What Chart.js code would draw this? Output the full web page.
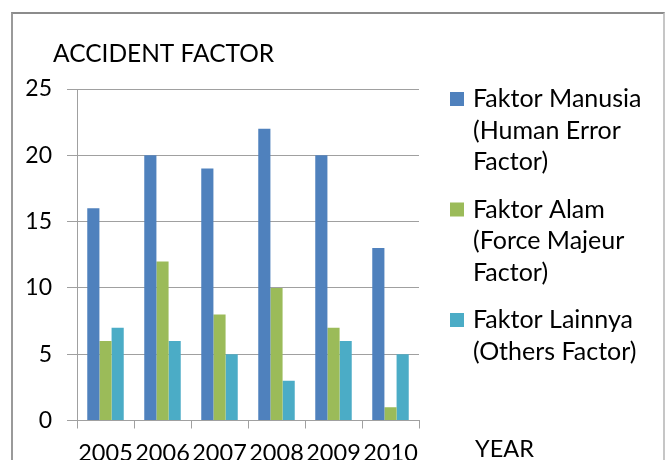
<!DOCTYPE html>
<html>
<head>
<meta charset="utf-8">
<script src="https://cdn.jsdelivr.net/npm/chart.js@4.4.1/dist/chart.umd.min.js"></script>
<style>
  html, body { margin: 0; padding: 0; background: #fff; overflow: hidden; }
  #wrap { position: relative; width: 670px; height: 460px; }
  #frame {
    position: absolute; left: 11px; top: 12px; width: 650px; height: 460px;
    border-top: 2px solid #8c8c8c; border-left: 2px solid #9a9a9a; border-right: 2px solid #c6c6c6;
  }
  canvas { position: absolute; left: 0; top: 0; }
</style>
</head>
<body>
<div id="wrap">
  <div id="frame"></div>
  <canvas id="chart" width="670" height="460"></canvas>
</div>
<script>
// ===== DATA =====
const years = ['2005', '2006', '2007', '2008', '2009', '2010'];
const humanError = [16, 20, 19, 22, 20, 13];
const forceMajeur = [6, 12, 8, 10, 7, 1];
const others = [7, 6, 5, 3, 6, 5];
const yTicks = [0, 5, 10, 15, 20, 25];

const seriesColors = ['#4F81BD', '#9BBB59', '#4BACC6'];
const legendLines = [
    ['Faktor Manusia', '(Human Error', 'Factor)'],
    ['Faktor Alam', '(Force Majeur', 'Factor)'],
    ['Faktor Lainnya', '(Others Factor)']
];
const chartTitle = 'ACCIDENT FACTOR';
const xTitle = 'YEAR';

const FONT = 'Lato';
const axisGray = '#a0a0a0';

// ===== TEXT PLUGIN (title, legend, axis name) =====
const textPlugin = {
    id: 'textPlugin',
    afterDraw(chart) {
        const ctx = chart.ctx;
        const area = chart.chartArea;
        ctx.save();
        ctx.fillStyle = '#000';
        ctx.textBaseline = 'middle';
        ctx.textAlign = 'left';

        // title
        ctx.font = `24.5px ${FONT}`;
        ctx.fillText(chartTitle, 53, 54);

        // legend
        ctx.font = `25px ${FONT}`;
        const lineH = 31.5;
        const gap = 16;
        let y = 99;
        legendLines.forEach((lines, i) => {
            ctx.fillStyle = seriesColors[i];
            ctx.fillRect(450, y - 7, 14, 14);
            ctx.fillStyle = '#000';
            lines.forEach((t, j) => ctx.fillText(t, 473, y + j * lineH));
            y += lines.length * lineH + gap;
        });

        // x axis name
        ctx.font = `23.5px ${FONT}`;
        ctx.fillText(xTitle, area.right + 56, 449);
        ctx.restore();
    }
};

// ===== CHART =====
const ctx = document.getElementById('chart').getContext('2d');
new Chart(ctx, {
    type: 'bar',
    data: {
        labels: years,
        datasets: [
            { label: legendLines[0].join(' '), data: humanError, backgroundColor: seriesColors[0] },
            { label: legendLines[1].join(' '), data: forceMajeur, backgroundColor: seriesColors[1] },
            { label: legendLines[2].join(' '), data: others, backgroundColor: seriesColors[2] }
        ]
    },
    options: {
        responsive: false,
        animation: false,
        devicePixelRatio: 1,
        layout: { padding: { left: 0, top: 89, right: 251, bottom: 0 } },
        datasets: {
            bar: { categoryPercentage: 0.64, barPercentage: 1.0, borderWidth: 0 }
        },
        plugins: {
            legend: { display: false },
            title: { display: false },
            tooltip: { enabled: false }
        },
        scales: {
            x: {
                afterFit(scale) { scale.height = 39.5; },
                grid: { display: true, drawOnChartArea: false, tickLength: 8, color: axisGray, offset: true },
                border: { display: true, color: axisGray, width: 1 },
                ticks: { color: '#000', font: { family: FONT, size: 23.5 }, padding: 11, maxRotation: 0, autoSkip: false }
            },
            y: {
                min: 0,
                max: 25,
                afterFit(scale) { scale.width = 77; },
                afterBuildTicks(scale) { scale.ticks = yTicks.map(v => ({ value: v })); },
                grid: { color: axisGray, tickLength: 10 },
                border: { display: true, color: axisGray, width: 1 },
                ticks: { color: '#000', font: { family: FONT, size: 23 }, padding: 15 }
            }
        }
    },
    plugins: [textPlugin]
});
</script>
</body>
</html>
